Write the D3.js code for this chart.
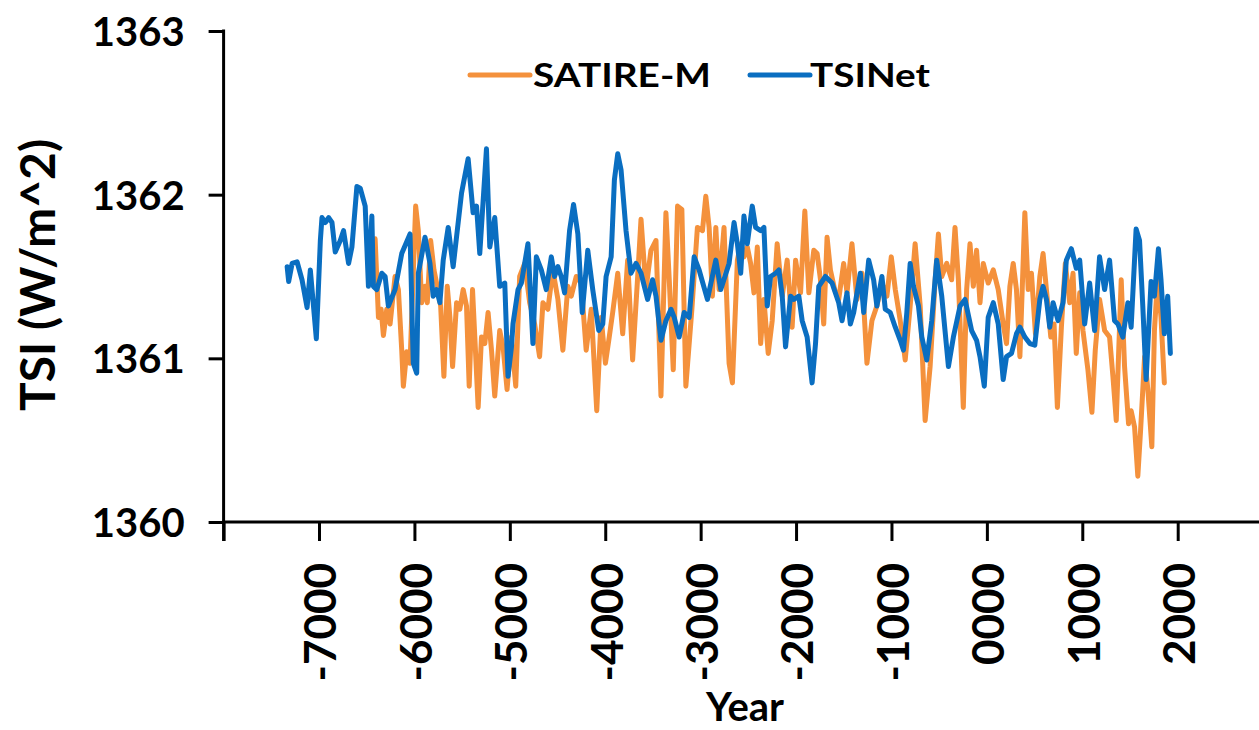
<!DOCTYPE html>
<html>
<head>
<meta charset="utf-8">
<script src="https://cdn.jsdelivr.net/npm/d3@7"></script>
<style>
  html, body { margin: 0; padding: 0; background: #fff; }
  svg { display: block; }
  text { font-family: Lato, "Open Sans", sans-serif; font-weight: 700; fill: #000; }
</style>
</head>
<body>
<svg id="chart" width="1259" height="730"></svg>
<script>
const seriesNames = ["SATIRE-M", "TSINet"];
const seriesColors = ["#F4913C", "#0A6EC1"];

const yTicks = [1360, 1361, 1362, 1363];
const xTicks = [-8000, -7000, -6000, -5000, -4000, -3000, -2000, -1000, 0, 1000, 2000];
const xTickLabels = ["", "-7000", "-6000", "-5000", "-4000", "-3000", "-2000", "-1000", "0000", "1000", "2000"];

const satireYears = [-6412,-6377,-6349,-6325,-6290,-6255,-6203,-6168,-6133,-6116,-6081,-6046,-5987,-5959,-5924,-5889,-5865,-5830,-5795,-5761,-5725,-5691,-5656,-5628,-5600,-5558,-5524,-5489,-5454,-5426,-5391,-5367,-5332,-5297,-5262,-5228,-5192,-5158,-5106,-5071,-5029,-4983,-4938,-4897,-4844,-4792,-4740,-4688,-4653,-4601,-4549,-4496,-4444,-4392,-4356,-4304,-4252,-4200,-4147,-4089,-4043,-3998,-3963,-3922,-3869,-3817,-3765,-3713,-3660,-3625,-3573,-3521,-3468,-3416,-3364,-3329,-3287,-3242,-3197,-3155,-3092,-3034,-2981,-2946,-2911,-2877,-2841,-2807,-2755,-2702,-2667,-2615,-2580,-2546,-2511,-2476,-2441,-2406,-2371,-2337,-2292,-2250,-2198,-2145,-2093,-2041,-2005,-1953,-1908,-1866,-1814,-1779,-1744,-1710,-1675,-1640,-1595,-1553,-1501,-1466,-1414,-1362,-1309,-1257,-1205,-1153,-1100,-1048,-1002,-960,-908,-856,-804,-752,-699,-647,-595,-542,-508,-473,-421,-369,-334,-299,-247,-212,-177,-142,-108,-72,-38,14,67,119,171,206,241,276,310,346,398,433,467,509,555,589,624,670,704,739,781,822,868,903,937,973,1007,1059,1101,1136,1181,1234,1286,1321,1356,1408,1443,1485,1512,1548,1582,1611,1653,1687,1729,1756,1791,1825,1860];
const satireValues = [1361.73,1361.25,1361.30,1361.14,1361.30,1361.21,1361.50,1361.42,1361.05,1360.83,1361.04,1360.97,1361.93,1361.78,1361.34,1361.44,1361.34,1361.72,1361.54,1361.44,1361.32,1360.89,1361.44,1361.25,1360.95,1361.34,1361.30,1361.42,1361.32,1360.83,1361.42,1361.13,1360.70,1361.13,1361.09,1361.28,1361.05,1360.77,1361.17,1361.07,1360.81,1361.13,1360.83,1361.50,1361.58,1361.34,1361.21,1361.01,1361.34,1361.30,1361.54,1361.36,1361.05,1361.44,1361.38,1361.50,1361.46,1361.05,1361.30,1360.68,1361.25,1360.97,1361.11,1361.28,1361.52,1361.15,1361.60,1360.99,1361.50,1361.85,1361.42,1361.66,1361.72,1360.77,1361.89,1361.48,1360.93,1361.93,1361.91,1360.83,1361.30,1361.80,1361.78,1361.99,1361.80,1361.38,1361.80,1361.42,1361.80,1360.97,1360.85,1361.60,1361.70,1361.62,1361.68,1361.58,1361.40,1361.68,1361.09,1361.36,1361.03,1361.23,1361.70,1361.38,1361.60,1361.19,1361.60,1361.40,1361.90,1361.40,1361.66,1361.64,1361.48,1361.21,1361.74,1361.54,1361.42,1361.36,1361.58,1361.40,1361.70,1361.36,1361.52,1360.97,1361.23,1361.32,1361.46,1361.38,1361.62,1361.42,1361.23,1360.99,1361.32,1361.70,1361.32,1360.62,1360.95,1361.48,1361.76,1361.50,1361.58,1361.48,1361.80,1361.48,1360.70,1361.42,1361.70,1361.44,1361.66,1361.34,1361.58,1361.46,1361.54,1361.42,1361.21,1361.09,1361.44,1361.58,1361.42,1361.01,1361.89,1361.42,1361.52,1361.15,1361.50,1361.64,1361.42,1361.13,1361.21,1360.70,1361.19,1361.58,1361.34,1361.52,1361.03,1361.40,1361.17,1360.93,1360.67,1361.05,1361.36,1361.17,1361.13,1360.89,1360.62,1361.48,1360.95,1360.60,1360.68,1360.58,1360.28,1360.56,1361.01,1360.81,1360.46,1361.17,1361.50,1361.25,1360.85];

const tsinetYears = [-7334,-7318,-7282,-7230,-7178,-7125,-7091,-7028,-6986,-6969,-6934,-6899,-6864,-6830,-6777,-6743,-6690,-6655,-6603,-6568,-6516,-6482,-6446,-6430,-6394,-6342,-6307,-6273,-6203,-6133,-6046,-6012,-5976,-5959,-5889,-5837,-5803,-5767,-5733,-5698,-5646,-5594,-5506,-5437,-5385,-5349,-5315,-5245,-5210,-5158,-5106,-5053,-5019,-4983,-4967,-4914,-4879,-4810,-4758,-4722,-4670,-4618,-4565,-4531,-4496,-4461,-4426,-4374,-4332,-4287,-4241,-4183,-4131,-4068,-4026,-3991,-3938,-3904,-3869,-3834,-3782,-3730,-3677,-3625,-3556,-3504,-3468,-3416,-3364,-3311,-3277,-3225,-3173,-3120,-3068,-3016,-2929,-2841,-2789,-2702,-2650,-2615,-2580,-2546,-2511,-2459,-2424,-2371,-2337,-2302,-2267,-2214,-2180,-2145,-2110,-2058,-2023,-1971,-1936,-1884,-1832,-1796,-1762,-1692,-1623,-1553,-1518,-1466,-1431,-1396,-1326,-1291,-1239,-1187,-1153,-1100,-1065,-1013,-960,-908,-874,-839,-804,-769,-717,-682,-630,-578,-526,-473,-403,-351,-281,-229,-160,-108,-72,-27,14,67,119,171,206,258,310,346,398,450,502,555,589,624,659,694,746,798,833,885,937,973,1025,1077,1129,1181,1234,1286,1338,1373,1425,1478,1512,1564,1600,1634,1669,1721,1756,1798,1825,1860,1895,1923];
const tsinetValues = [1361.56,1361.47,1361.58,1361.59,1361.48,1361.31,1361.54,1361.12,1361.72,1361.86,1361.83,1361.86,1361.83,1361.65,1361.72,1361.78,1361.58,1361.68,1362.05,1362.04,1361.93,1361.44,1361.87,1361.44,1361.42,1361.52,1361.50,1361.32,1361.42,1361.64,1361.76,1360.97,1360.91,1361.52,1361.74,1361.58,1361.38,1361.42,1361.34,1361.60,1361.80,1361.56,1362.01,1362.22,1361.89,1361.93,1361.64,1362.28,1361.68,1361.86,1361.44,1361.46,1360.89,1361.07,1361.21,1361.42,1361.46,1361.70,1361.09,1361.62,1361.54,1361.42,1361.62,1361.50,1361.56,1361.50,1361.40,1361.78,1361.94,1361.76,1361.28,1361.66,1361.42,1361.17,1361.21,1361.50,1361.62,1362.09,1362.25,1362.15,1361.78,1361.52,1361.58,1361.52,1361.36,1361.48,1361.38,1361.11,1361.23,1361.30,1361.25,1361.13,1361.28,1361.25,1361.62,1361.54,1361.36,1361.60,1361.42,1361.58,1361.83,1361.70,1361.52,1361.87,1361.70,1361.93,1361.80,1361.78,1361.80,1361.32,1361.50,1361.52,1361.54,1361.38,1361.07,1361.38,1361.36,1361.38,1361.23,1361.13,1360.85,1361.09,1361.44,1361.50,1361.46,1361.34,1361.23,1361.40,1361.21,1361.28,1361.52,1361.28,1361.60,1361.48,1361.32,1361.50,1361.30,1361.28,1361.19,1361.11,1361.05,1361.28,1361.58,1361.44,1361.32,1361.13,1360.99,1361.23,1361.60,1361.38,1360.95,1361.13,1361.32,1361.36,1361.17,1361.11,1361.01,1360.83,1361.25,1361.34,1361.21,1360.87,1361.01,1361.03,1361.15,1361.19,1361.13,1361.09,1361.08,1361.36,1361.44,1361.36,1361.19,1361.34,1361.23,1361.34,1361.60,1361.67,1361.55,1361.60,1361.21,1361.46,1361.17,1361.62,1361.42,1361.60,1361.23,1361.21,1361.13,1361.34,1361.19,1361.79,1361.72,1361.32,1360.87,1361.47,1361.38,1361.67,1361.48,1361.15,1361.38,1361.03];

const svg = d3.select("#chart");
const W = 1259;

const x = d3.scaleLinear().domain([-8000, 2000]).range([223.6, 1177.7]);
const y = d3.scaleLinear().domain([1360, 1363]).range([522, 31]);

const satire = satireYears.map((yr, i) => ({ x: yr, y: satireValues[i] }));
const tsinet = tsinetYears.map((yr, i) => ({ x: yr, y: tsinetValues[i] }));

const line = d3.line().x(d => x(d.x)).y(d => y(d.y));

// data lines
svg.append("path").datum(satire).attr("d", line)
  .attr("fill", "none").attr("stroke", seriesColors[0])
  .attr("stroke-width", 5).attr("stroke-linejoin", "round").attr("stroke-linecap", "round");
svg.append("path").datum(tsinet).attr("d", line)
  .attr("fill", "none").attr("stroke", seriesColors[1])
  .attr("stroke-width", 5).attr("stroke-linejoin", "round").attr("stroke-linecap", "round");

// x axis
const xAxis = d3.axisBottom(x).tickValues(xTicks).tickSize(19).tickSizeOuter(0)
  .tickFormat((d, i) => xTickLabels[i]);
const gx = svg.append("g").attr("transform", `translate(0,${y(1360)})`).call(xAxis);
gx.select(".domain").remove();
gx.append("line").attr("x1", x(-8000) - 1.5).attr("x2", W).attr("y1", 0).attr("y2", 0)
  .attr("stroke", "#000").attr("stroke-width", 3);
gx.selectAll(".tick line").attr("stroke", "#000").attr("stroke-width", 3);
gx.selectAll(".tick text")
  .attr("fill", "#000")
  .style("font-size", "44px")
  .style("font-family", "Lato, 'Open Sans', sans-serif")
  .style("font-weight", "700")
  .attr("text-anchor", "end")
  .attr("x", 0).attr("y", 0).attr("dy", "0.36em")
  .attr("transform", "translate(1,41) rotate(-90)");

// y axis
const yAxis = d3.axisLeft(y).tickValues(yTicks).tickSize(15).tickSizeOuter(0).tickPadding(24)
  .tickFormat(d3.format("d"));
const gy = svg.append("g").attr("transform", `translate(${x(-8000)},0)`).call(yAxis);
gy.select(".domain").remove();
gy.append("line").attr("x1", 0).attr("x2", 0).attr("y1", y(1363) - 1.5).attr("y2", y(1360) + 19)
  .attr("stroke", "#000").attr("stroke-width", 3);
gy.selectAll(".tick line").attr("stroke", "#000").attr("stroke-width", 3);
gy.selectAll(".tick text")
  .attr("fill", "#000")
  .style("font-size", "40px")
  .style("font-family", "Lato, 'Open Sans', sans-serif")
  .style("font-weight", "700")
  .attr("dy", "0.36em");

// axis titles
svg.append("text")
  .attr("transform", "translate(55,275) rotate(-90)")
  .attr("text-anchor", "middle")
  .style("font-size", "48px")
  .text("TSI (W/m^2)");

svg.append("text")
  .attr("x", 745).attr("y", 721)
  .attr("text-anchor", "middle")
  .style("font-size", "40px")
  .text("Year");

// legend
const legendItems = [
  { name: seriesNames[0], color: seriesColors[0], x1: 470, x2: 530, tx: 533, tw: 178 },
  { name: seriesNames[1], color: seriesColors[1], x1: 750, x2: 810, tx: 810, tw: 120 }
];
const lg = svg.append("g");
legendItems.forEach(it => {
  lg.append("line").attr("x1", it.x1).attr("x2", it.x2).attr("y1", 75).attr("y2", 75)
    .attr("stroke", it.color).attr("stroke-width", 5).attr("stroke-linecap", "round");
  lg.append("text").attr("x", it.tx).attr("y", 87)
    .style("font-size", "32px")
    .attr("textLength", it.tw).attr("lengthAdjust", "spacingAndGlyphs")
    .text(it.name);
});
</script>
</body>
</html>
